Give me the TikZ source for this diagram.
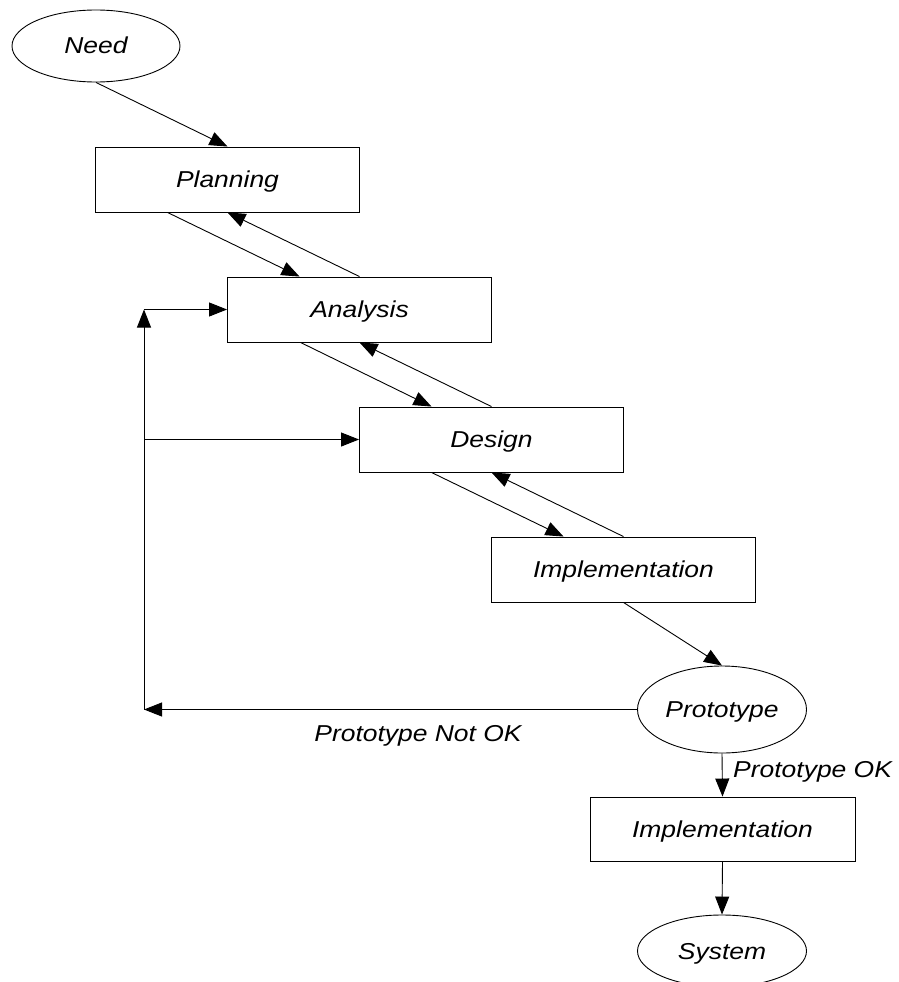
\documentclass[tikz,border=0pt]{standalone}
\usepackage{fontspec}
\setmainfont{Liberation Sans}[FakeStretch=1.15]
\usetikzlibrary{arrows.meta,shapes.geometric,calc}
\begin{document}
\begin{tikzpicture}[x=1pt,y=-1pt,
  every node/.style={font=\itshape\fontsize{23}{27}\selectfont, inner sep=0pt, text height=16pt, text depth=0pt},
  box/.style={draw, line width=0.9pt, minimum width=264pt, minimum height=65pt},
  oval/.style={draw, ellipse, line width=0.9pt, minimum width=168pt, minimum height=72pt},
  arr/.style={line width=0.9pt, -{Triangle[length=18pt,width=14pt]}},
  ln/.style={line width=0.9pt}]
\useasboundingbox (0,0) rectangle (898,982);
\node[oval] (need) at (96,46) {Need};
\node[box] (plan) at (227.5,179.5) {Planning};
\node[box] (ana) at (359.5,309.5) {Analysis};
\node[box] (des) at (491.5,439.5) {Design};
\node[box] (impl) at (623.5,569.5) {Implementation};
\node[oval, minimum width=169pt, minimum height=87pt] (proto) at (722,709.5) {Prototype};
\node[box, minimum width=265pt, minimum height=64pt] (impl2) at (722.5,829) {Implementation};
\node[oval, minimum width=169pt] (sys) at (722,951) {System};
\coordinate (cbot) at (144,709.5);
\coordinate (ctop) at (144,309.5);
\coordinate (cmid) at (144,439.5);
\node (notok) at (418,733) {Prototype Not OK};
\node[anchor=west] (ok) at (733,769) {Prototype OK};

\draw[arr] (need.south) -- (plan.north);
\draw[arr] ([xshift=-60pt]plan.south) -- ([xshift=-60pt]ana.north);
\draw[arr] (ana.north) -- (plan.south);
\draw[arr] ([xshift=-59pt]ana.south) -- ([xshift=-60pt]des.north);
\draw[arr] (des.north) -- (ana.south);
\draw[arr] ([xshift=-60pt]des.south) -- ([xshift=-60pt]impl.north);
\draw[arr] (impl.north) -- (des.south);
\draw[arr] (impl.south) -- (proto.north);
\draw[arr] (proto.west) -- (cbot);
\draw[arr] (cbot) -- (ctop);
\draw[arr] (ctop) -- (ana.west);
\draw[arr] (cmid) -- (des.west);
\draw[arr] (proto.south) -- (impl2.north);
\draw[arr] (impl2.south) -- (sys.north);
\end{tikzpicture}
\end{document}
